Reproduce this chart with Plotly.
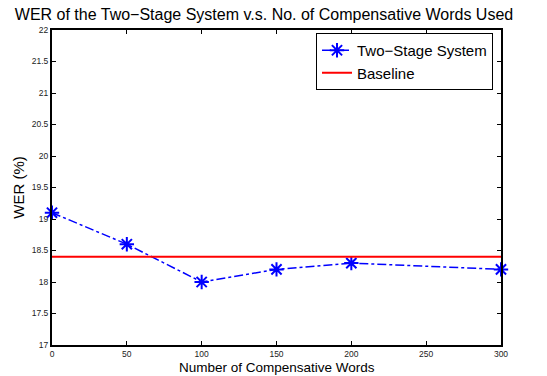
import plotly.graph_objects as go

words = [0, 50, 100, 150, 200, 300]
wer_two_stage = [19.1, 18.6, 18.0, 18.2, 18.3, 18.2]
baseline_x = [0, 300]
baseline_wer = [18.4, 18.4]
x_ticks = [0, 50, 100, 150, 200, 250, 300]
y_ticks = [17, 17.5, 18, 18.5, 19, 19.5, 20, 20.5, 21, 21.5, 22]

fig = go.Figure()
fig.add_trace(go.Scatter(
    x=words, y=wer_two_stage, mode="lines+markers", name="Two\u2212Stage System",
    line=dict(color="#0000ff", width=1.5, dash="dashdot"),
    marker=dict(symbol="asterisk-open", size=12, color="#0000ff",
                line=dict(color="#0000ff", width=2)),
    cliponaxis=False,
))
fig.add_trace(go.Scatter(
    x=baseline_x, y=baseline_wer, mode="lines", name="Baseline",
    line=dict(color="#ff0000", width=2),
))

font = "Liberation Sans, Arial, Helvetica, sans-serif"
axis_common = dict(
    showline=True, linecolor="black", linewidth=2, mirror="ticks",
    ticks="inside", ticklen=4, tickcolor="black", tickwidth=1,
    showgrid=False, zeroline=False, automargin=False,
    tickfont=dict(size=8.5, family=font, color="#222222"),
)
W, H = 547, 376
L, R, T, B = 52, 46, 30, 31
plot_h = H - T - B
fig.update_layout(
    width=W, height=H,
    margin=dict(l=L, r=R, t=T, b=B),
    paper_bgcolor="white", plot_bgcolor="white",
    font=dict(family=font, color="black"),
    title=dict(text="WER of the Two\u2212Stage System v.s. No. of Compensative Words Used",
               x=264 / W, xanchor="center", y=1 - 14 / H, yanchor="middle",
               font=dict(size=16, family=font, color="black")),
    xaxis=dict(range=[0, 300], tickvals=x_ticks, ticktext=[str(v) for v in x_ticks],
               ticklabelstandoff=0, **axis_common),
    yaxis=dict(range=[17, 22], tickvals=y_ticks,
               ticktext=[("%g" % v) for v in y_ticks],
               title=dict(text="WER (%)", standoff=4, font=dict(size=15, family=font)),
               **axis_common),
    legend=dict(x=(493 - L) / (W - L - R), y=1 - 3 / plot_h,
                xanchor="right", yanchor="top",
                bgcolor="white", bordercolor="black", borderwidth=1,
                font=dict(size=15, family=font), tracegroupgap=0,
                itemwidth=30),
    showlegend=True,
)
fig.add_annotation(
    text="Number of Compensative Words", xref="paper", yref="paper",
    x=0.5, y=-B / plot_h, xanchor="center", yanchor="bottom",
    showarrow=False, borderpad=0, font=dict(size=13.5, family=font, color="black"),
)
fig.write_html("out.html", config={"displayModeBar": False},
               post_script="document.body.style.margin='0';")
